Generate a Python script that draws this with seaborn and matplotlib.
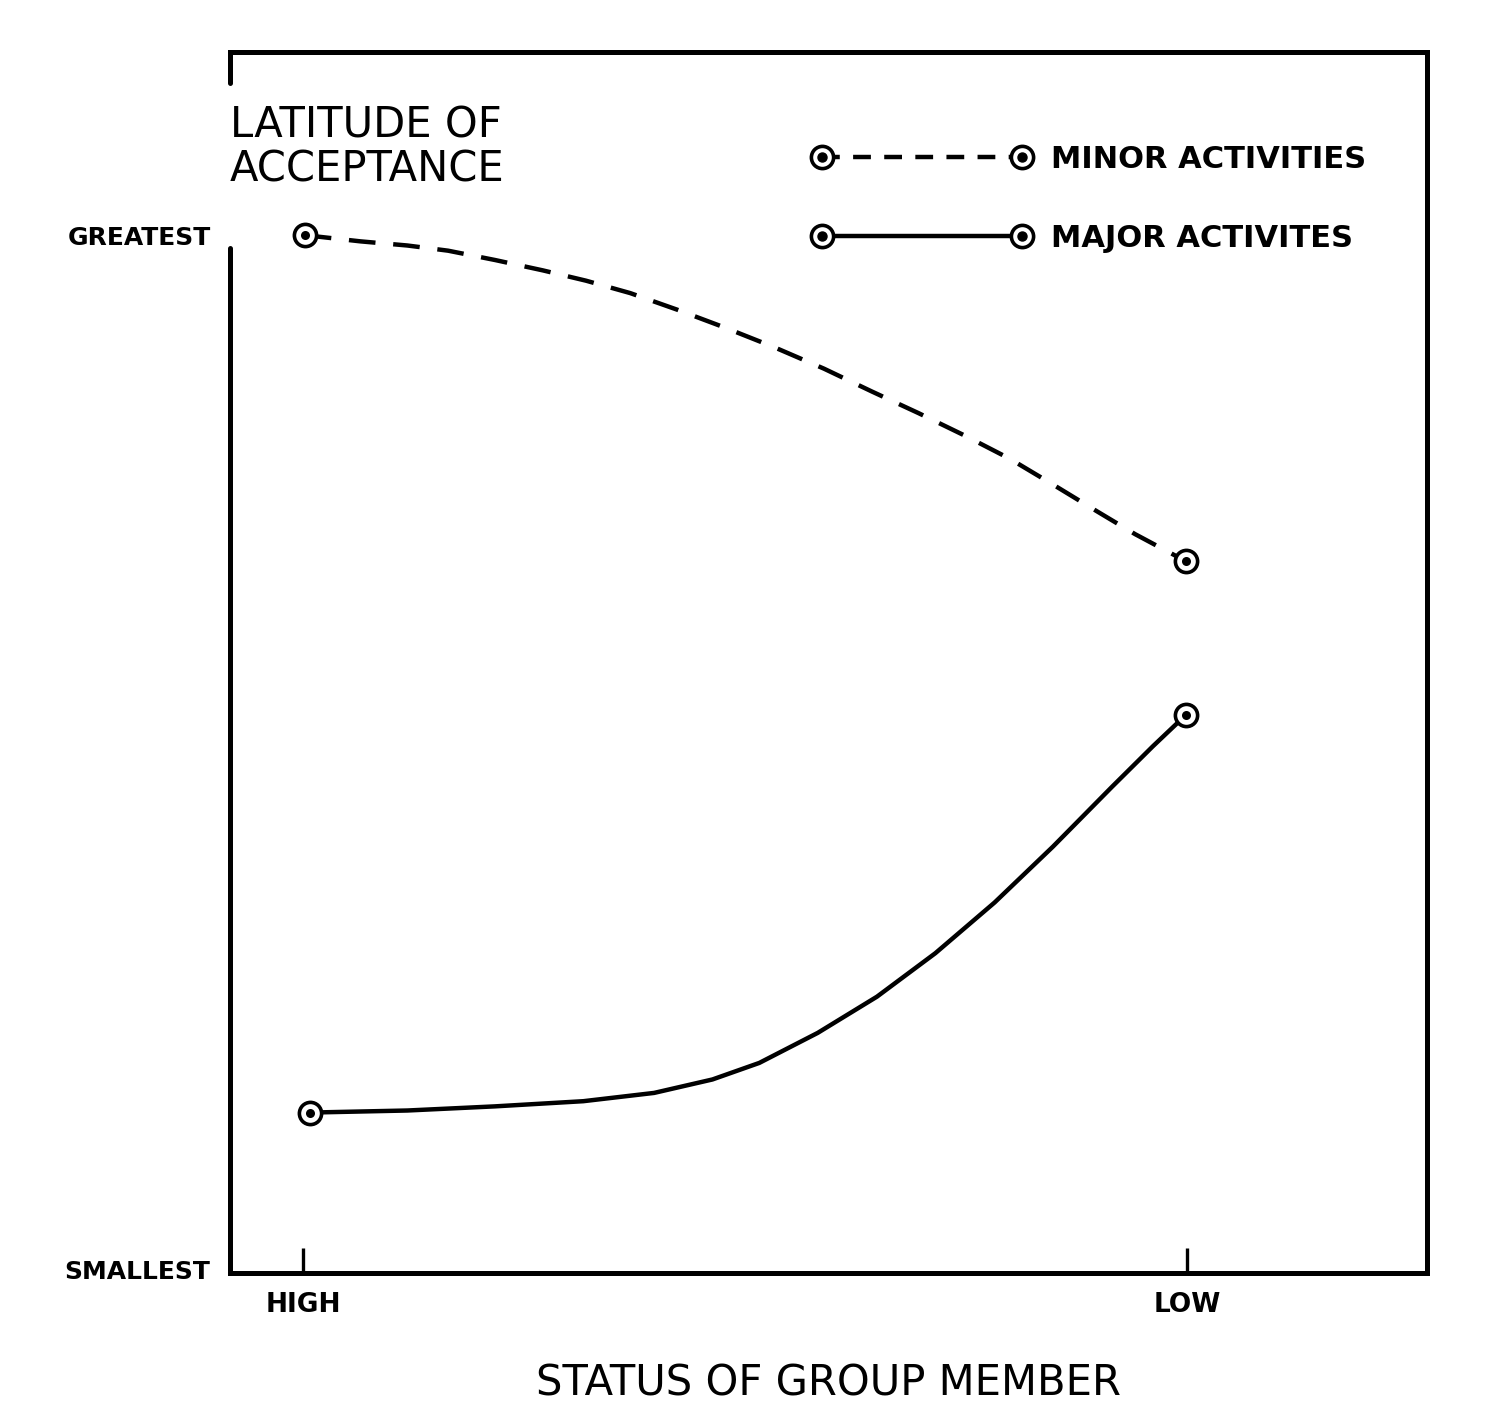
import numpy as np
import pandas as pd
import seaborn as sns
import matplotlib.pyplot as plt
from matplotlib.lines import Line2D
from matplotlib.legend_handler import HandlerTuple

# values (x: 0 = HIGH status, 1 = LOW status)
minor_x = [0.002, 0.065, 0.118, 0.164, 0.217, 0.271, 0.320, 0.370, 0.423, 0.476,
           0.532, 0.589, 0.643, 0.696, 0.749, 0.799, 0.848, 0.898, 0.941, 0.998]
minor_y = [1.000, 0.994, 0.990, 0.985, 0.976, 0.966, 0.956, 0.944, 0.928, 0.911,
           0.892, 0.871, 0.849, 0.828, 0.806, 0.784, 0.759, 0.733, 0.711, 0.685]
major_x = [0.008, 0.118, 0.217, 0.317, 0.397, 0.463, 0.516, 0.582, 0.649, 0.715,
           0.782, 0.848, 0.915, 0.961, 0.998]
major_y = [0.152, 0.154, 0.158, 0.163, 0.171, 0.184, 0.200, 0.229, 0.264, 0.306,
           0.355, 0.409, 0.467, 0.506, 0.536]
status_ticks = [0, 1]
status_labels = ["HIGH", "LOW"]
latitude_ticks = [0, 1]
latitude_labels = ["SMALLEST", "GREATEST"]
series_labels = ["MINOR ACTIVITIES", "MAJOR ACTIVITES"]

minor_df = pd.DataFrame({"status": minor_x, "latitude": minor_y})
major_df = pd.DataFrame({"status": major_x, "latitude": major_y})
ends_df = pd.concat([minor_df.iloc[[0, -1]], major_df.iloc[[0, -1]]])

sns.set_style("white")
plt.rcParams["font.family"] = ["DejaVu Sans"]
plt.rcParams["text.color"] = "black"
plt.rcParams["xtick.color"] = "black"
plt.rcParams["ytick.color"] = "black"
plt.rcParams["axes.labelcolor"] = "black"

fig = plt.figure(figsize=(15.01, 14.25), dpi=100)
ax = fig.add_axes([0.1532, 0.1067, 0.7975, 0.8568])

lw = 3.2
sns.lineplot(data=minor_df, x="status", y="latitude", ax=ax, color="black",
             linewidth=lw, sort=False, estimator=None)
ax.lines[-1].set_dashes((6, 4))
sns.lineplot(data=major_df, x="status", y="latitude", ax=ax, color="black",
             linewidth=lw, sort=False, estimator=None)

# ringed end points
sns.scatterplot(data=ends_df, x="status", y="latitude", ax=ax, s=16 ** 2,
                color="white", edgecolor="black", linewidth=2.6, zorder=5)
sns.scatterplot(data=ends_df, x="status", y="latitude", ax=ax, s=6.5 ** 2,
                color="black", edgecolor="black", linewidth=0, zorder=6)

ax.set_xlim(-0.0826, 1.271)
ax.set_ylim(-0.003, 1.177)

# frame, with the break in the left side behind the title
for side in ["top", "right", "bottom"]:
    ax.spines[side].set_linewidth(3.6)
    ax.spines[side].set_color("black")
ax.spines["left"].set_visible(False)
ax.axvline(ax.get_xlim()[0], ymin=0, ymax=0.8395, color="black", lw=3.6, clip_on=False)
ax.axvline(ax.get_xlim()[0], ymin=0.9746, ymax=1.0, color="black", lw=3.6, clip_on=False)

ax.set_xticks(status_ticks)
ax.set_xticklabels(status_labels, fontsize=19, fontweight="bold")
ax.tick_params(axis="x", bottom=True, direction="in", length=18, width=2.4, pad=14)
ax.set_yticks(latitude_ticks)
ax.set_yticklabels(latitude_labels, fontsize=18, fontweight="bold")
ax.tick_params(axis="y", left=True, length=0, pad=14)

ax.set_xlabel("STATUS OF GROUP MEMBER", fontsize=30, labelpad=32)
ax.set_ylabel("")

ax.text(0.0, 0.957, "LATITUDE OF\nACCEPTANCE", transform=ax.transAxes,
        fontsize=30, va="top", ha="left", linespacing=1.05)

# legend with ringed points at both ends of each key line
handles = []
for ls in ["--", "-"]:
    ring = Line2D([], [], color="black", lw=lw, linestyle=ls, marker="o", markersize=16,
                  markerfacecolor="white", markeredgecolor="black", markeredgewidth=2.6)
    if ls == "--":
        ring.set_dashes((4, 3))
    dot = Line2D([], [], linestyle="none", marker="o", markersize=6.5,
                 markerfacecolor="black", markeredgecolor="black")
    handles.append((ring, dot))
leg = ax.legend(handles, series_labels, handler_map={tuple: HandlerTuple(ndivide=1)},
                numpoints=2, frameon=False, loc="upper left", bbox_to_anchor=(0.487, 0.924),
                borderpad=0, borderaxespad=0, handlelength=7.13, handletextpad=0.65,
                labelspacing=1.63, prop={"size": 22, "weight": "bold"})

fig.savefig("out.png", dpi=100, facecolor="white")
